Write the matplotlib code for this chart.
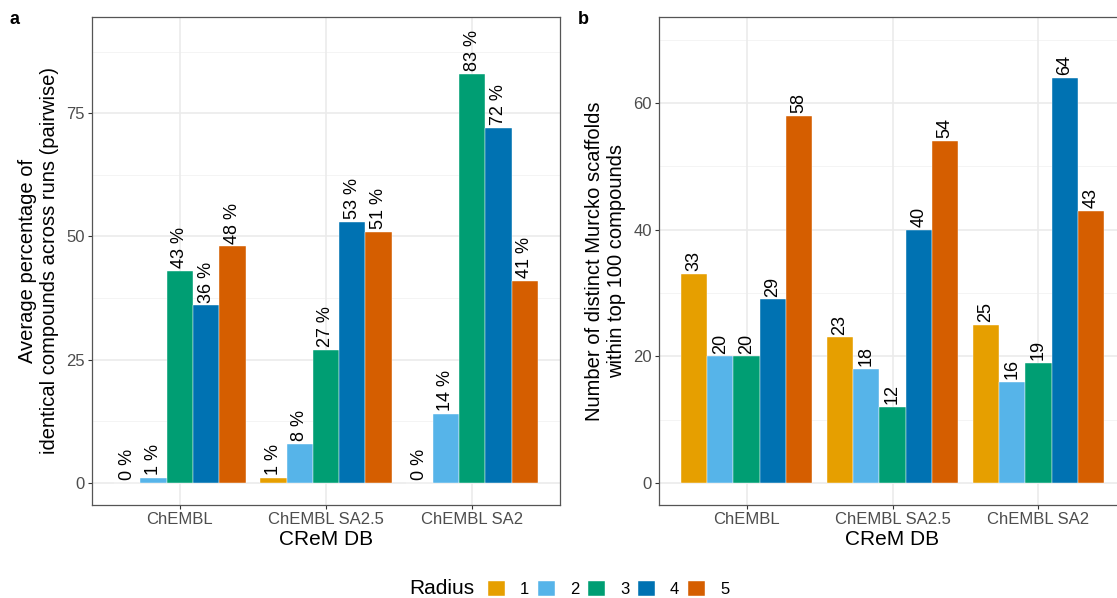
import matplotlib
matplotlib.use("Agg")
import matplotlib.pyplot as plt
from matplotlib.patches import Patch
import numpy as np

plt.rcParams['font.family'] = ['Liberation Sans', 'DejaVu Sans']

databases = ['ChEMBL', 'ChEMBL SA2.5', 'ChEMBL SA2']
radii = ['1', '2', '3', '4', '5']
colors = ['#E69F00', '#56B4E9', '#009E73', '#0072B2', '#D55E00']

# panel a: average % identical compounds, rows = radius, cols = database
pct_identical = [
    [0, 1, 0],
    [1, 8, 14],
    [43, 27, 83],
    [36, 53, 72],
    [48, 51, 41],
]

# panel b: number of distinct Murcko scaffolds in top 100
n_scaffolds = [
    [33, 23, 25],
    [20, 18, 16],
    [20, 12, 19],
    [29, 40, 64],
    [58, 54, 43],
]

W, H = 1117, 598
fig = plt.figure(figsize=(W / 100, H / 100), dpi=100)

ax_a = fig.add_axes([92 / W, (H - 505) / H, 468 / W, 488 / H])
ax_b = fig.add_axes([659 / W, (H - 505) / H, 467 / W, 488 / H])

bar_w = 0.18
x = np.arange(1, len(databases) + 1)


def draw_panel(ax, values, suffix, ylim, major, minor, ylabel):
    ax.set_facecolor('white')
    for v in minor:
        ax.axhline(v, color='#F2F2F2', lw=0.6, zorder=0)
    for v in major:
        ax.axhline(v, color='#EBEBEB', lw=1.2, zorder=0)
    for xi in x:
        ax.axvline(xi, color='#EBEBEB', lw=1.2, zorder=0)
    for i, vals in enumerate(values):
        xs = x + (i - 2) * bar_w
        ax.bar(xs, vals, width=bar_w, color=colors[i], edgecolor='white',
               linewidth=0.3, zorder=2)
        for xx, v in zip(xs, vals):
            ax.text(xx, v + ylim[1] * 0.006, f'{v}{suffix}', rotation=90,
                    ha='center', va='bottom', fontsize=13, color='black',
                    zorder=3)
    ax.set_xlim(0.4, 3.6)
    ax.set_ylim(*ylim)
    ax.set_xticks(x)
    ax.set_xticklabels(databases)
    ax.set_yticks(major)
    ax.tick_params(axis='both', length=3, width=0.8, color='#333333',
                   labelcolor='#4D4D4D', labelsize=12, pad=2)
    for s in ax.spines.values():
        s.set_color('#555555')
        s.set_linewidth(0.9)
    ax.set_xlabel('CReM DB', fontsize=15, labelpad=2)
    ax.set_ylabel(ylabel, fontsize=14.5, labelpad=5)


draw_panel(ax_a, pct_identical, ' %', (-4.46, 94.5), [0, 25, 50, 75],
           [12.5, 37.5, 62.5, 87.5],
           'Average percentage of\nidentical compounds across runs (pairwise)')
draw_panel(ax_b, n_scaffolds, '', (-3.47, 73.6), [0, 20, 40, 60],
           [10, 30, 50, 70],
           'Number of distinct Murcko scaffolds\nwithin top 100 compounds')

fig.text(10 / W, 1 - 24 / H, 'a', fontsize=13, fontweight='bold')
fig.text(578 / W, 1 - 24 / H, 'b', fontsize=13, fontweight='bold')

# legend along the bottom
fig.text(442 / W, 1 - 589 / H, 'Radius', fontsize=15, ha='center', va='center')
handles = [Patch(facecolor=c, edgecolor='white', linewidth=0.3) for c in colors]
fig.legend(handles, radii, loc='center left', bbox_to_anchor=(488 / W, 1 - 589 / H),
           ncol=5, frameon=False, fontsize=12, handlelength=1.0, handleheight=1.0,
           handletextpad=0.9, columnspacing=0.55, borderpad=0, borderaxespad=0)

fig.savefig('out.png', dpi=100)
